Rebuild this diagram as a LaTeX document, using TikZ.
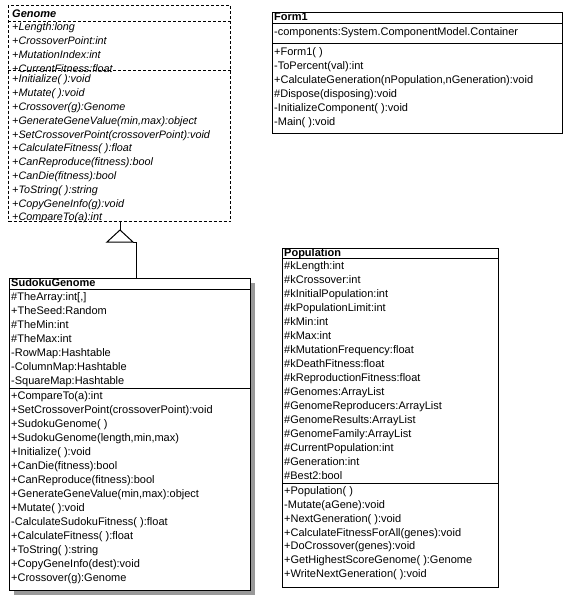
\documentclass[tikz,border=0pt]{standalone}
\usepackage{fontspec}
\setmainfont{Liberation Sans}
\usetikzlibrary{shadows}
\newcommand{\umlrows}[6]{%
  \foreach \t [count=\i] in {#6}
    \node[#5] (#1\i) at (#2,{#3+#4*(\i-1)}) {\t};%
}
\begin{document}
\begin{tikzpicture}[x=1pt,y=-1pt,
  row/.style={anchor=west, inner sep=0pt, text height=7.8pt, text depth=0pt,
    font=\fontsize{11pt}{12pt}\selectfont},
  irow/.style={row, font=\fontsize{10.8pt}{12pt}\selectfont\itshape},
  ttl/.style={row, font=\fontsize{11pt}{12pt}\selectfont\bfseries},
  ittl/.style={row, font=\fontsize{11pt}{12pt}\selectfont\bfseries\itshape},
  box/.style={draw=black, line width=1pt, fill=white, anchor=north west, inner sep=0pt},
  dbox/.style={box, dash pattern=on 3pt off 2pt},
  sep/.style={line width=1pt},
  dsep/.style={line width=1pt, dash pattern=on 3pt off 2pt},
  shadowed/.style={drop shadow={shadow xshift=4pt, shadow yshift=-4pt, fill=black!40, opacity=1}},
  link/.style={line width=1pt}
]
\useasboundingbox (0,0) rectangle (570,597);

% ---------- Genome ----------
\node[dbox, minimum width=222pt, minimum height=216pt] (genome) at (8,5) {};
\draw[dsep] (genome.west |- 0,21) -- (genome.east |- 0,21);
\draw[dsep] (genome.west |- 0,70) -- (genome.east |- 0,70);
\node[ittl] (gt) at (12,14) {Genome};
\umlrows{ga}{12}{27}{14}{irow}{+Length:long,+CrossoverPoint:int,+MutationIndex:int,+CurrentFitness:float}
\umlrows{gm}{12}{79}{13.8}{irow}{+Initialize( ):void,+Mutate( ):void,+Crossover(g):Genome,{+GenerateGeneValue(min,max):object},+SetCrossoverPoint(crossoverPoint):void,+CalculateFitness( ):float,+CanReproduce(fitness):bool,+CanDie(fitness):bool,+ToString( ):string,+CopyGeneInfo(g):void,+CompareTo(a):int}

% ---------- SudokuGenome ----------
\node[box, shadowed, minimum width=241pt, minimum height=312pt] (sudoku) at (9,278) {};
\draw[sep] (sudoku.west |- 0,289) -- (sudoku.east |- 0,289);
\draw[sep] (sudoku.west |- 0,388) -- (sudoku.east |- 0,388);
\node[ttl] (st) at (11,283) {SudokuGenome};
\umlrows{sa}{11}{297}{14}{row}{{\#TheArray:int[,]},+TheSeed:Random,\#TheMin:int,\#TheMax:int,-RowMap:Hashtable,-ColumnMap:Hashtable,-SquareMap:Hashtable}
\umlrows{sm}{11}{396}{14}{row}{+CompareTo(a):int,+SetCrossoverPoint(crossoverPoint):void,+SudokuGenome( ),{+SudokuGenome(length,min,max)},+Initialize( ):void,+CanDie(fitness):bool,+CanReproduce(fitness):bool,{+GenerateGeneValue(min,max):object},+Mutate( ):void,-CalculateSudokuFitness( ):float,+CalculateFitness( ):float,+ToString( ):string,+CopyGeneInfo(dest):void,+Crossover(g):Genome}

% ---------- generalization ----------
\coordinate (tip) at (120,230);
\coordinate (bl) at (107,242);
\coordinate (br) at (133,242);
\coordinate (bend) at (136,242);
\draw[link] (tip |- genome.south) -- (tip);
\draw[link] (tip) -- (bl) -- (br) -- cycle;
\draw[link] (br) -- (bend) -- (bend |- sudoku.north);

% ---------- Form1 ----------
\node[box, minimum width=290pt, minimum height=121pt] (form) at (272,12) {};
\draw[sep] (form.west |- 0,23) -- (form.east |- 0,23);
\draw[sep] (form.west |- 0,43) -- (form.east |- 0,43);
\node[ttl] (ft) at (274,17) {Form1};
\node[row] (fa1) at (274,32) {-components:System.ComponentModel.Container};
\umlrows{fm}{274}{52}{14}{row}{+Form1( ),-ToPercent(val):int,{+CalculateGeneration(nPopulation,nGeneration):void},\#Dispose(disposing):void,-InitializeComponent( ):void,-Main( ):void}

% ---------- Population ----------
\node[box, minimum width=216pt, minimum height=339pt] (pop) at (282,248) {};
\draw[sep] (pop.west |- 0,258) -- (pop.east |- 0,258);
\draw[sep] (pop.west |- 0,483) -- (pop.east |- 0,483);
\node[ttl] (pt) at (284,253) {Population};
\umlrows{pa}{284}{266}{14}{row}{\#kLength:int,\#kCrossover:int,\#kInitialPopulation:int,\#kPopulationLimit:int,\#kMin:int,\#kMax:int,\#kMutationFrequency:float,\#kDeathFitness:float,\#kReproductionFitness:float,\#Genomes:ArrayList,\#GenomeReproducers:ArrayList,\#GenomeResults:ArrayList,\#GenomeFamily:ArrayList,\#CurrentPopulation:int,\#Generation:int,\#Best2:bool}
\umlrows{pm}{284}{491}{13.7}{row}{+Population( ),-Mutate(aGene):void,+NextGeneration( ):void,+CalculateFitnessForAll(genes):void,+DoCrossover(genes):void,+GetHighestScoreGenome( ):Genome,+WriteNextGeneration( ):void}
\end{tikzpicture}
\end{document}
